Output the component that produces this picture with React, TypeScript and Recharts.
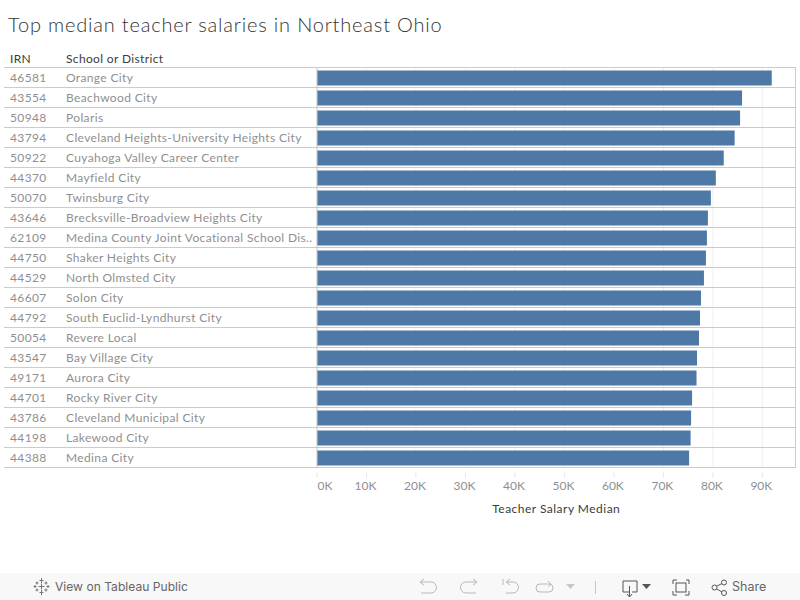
import React from 'react';
import { Bar, BarChart, CartesianGrid, ReferenceLine, XAxis, YAxis } from 'recharts';

const irns = ['46581', '43554', '50948', '43794', '50922', '44370', '50070', '43646', '62109', '44750', '44529', '46607', '44792', '50054', '43547', '49171', '44701', '43786', '44198', '44388'];
const districts = [
  'Orange City',
  'Beachwood City',
  'Polaris',
  'Cleveland Heights-University Heights City',
  'Cuyahoga Valley Career Center',
  'Mayfield City',
  'Twinsburg City',
  'Brecksville-Broadview Heights City',
  'Medina County Joint Vocational School Dis..',
  'Shaker Heights City',
  'North Olmsted City',
  'Solon City',
  'South Euclid-Lyndhurst City',
  'Revere Local',
  'Bay Village City',
  'Aurora City',
  'Rocky River City',
  'Cleveland Municipal City',
  'Lakewood City',
  'Medina City',
];
const salaries = [91900, 85900, 85500, 84400, 82200, 80600, 79600, 79000, 78800, 78600, 78200, 77600, 77400, 77200, 76800, 76700, 75800, 75600, 75500, 75200];
const salaryTicks = [0, 10000, 20000, 30000, 40000, 50000, 60000, 70000, 80000, 90000];

const chartData = districts.map((district, i) => ({ district, irn: irns[i], salary: salaries[i] }));

const FONT = 'Lato, sans-serif';
const RULE = '#cbcbcb';
const HEADER = { position: 'absolute', top: 51, fontFamily: FONT, fontSize: 12, color: '#3c3c3c', letterSpacing: 0.35 } as const;

const RowTick = (props: any) => {
  const { y, payload, index } = props;
  return (
    <g fontFamily={FONT} fontSize={12} fill="#8f8f8f" letterSpacing={0.36}>
      <text x={10} y={y + 4.5}>{irns[index]}</text>
      <text x={66} y={y + 4.5}>{payload.value}</text>
      {index === 0 && <line x1={4} x2={796} y1={y - 10} y2={y - 10} stroke={RULE} />}
      <line x1={4} x2={796} y1={y + 10} y2={y + 10} stroke={RULE} />
    </g>
  );
};

const SalaryTick = (props: any) => {
  const { x, y, payload } = props;
  const label = `${payload.value / 1000}K`;
  return (
    <g>
      <line x1={x} x2={x} y1={y - 9} y2={y - 4} stroke="#e6e6e6" />
      <text x={payload.value === 0 ? x + 8 : x - 1} y={y + 8} textAnchor="middle" fontFamily={FONT} fontSize={12} fill="#8f8f8f">
        {label}
      </text>
    </g>
  );
};

const Toolbar = () => (
  <div style={{ position: 'absolute', left: 0, top: 573, width: 800, height: 27, background: '#f8f8f8' }}>
    <svg width={800} height={27} style={{ display: 'block' }} fill="none" stroke="#b8b8b8" strokeWidth={1}>
      <g stroke="#777">
        <path d="M41.500 5v5M39.500 7.500h4M41.500 17v5M39.500 19.500h4M35 12v3M33.500 13.500h3M48 12v3M46.500 13.500h3" />
        <path d="M37 8.500v3M35.500 10h3M46 8.500v3M44.500 10h3M37 15.500v3M35.500 17h3M46 15.500v3M44.500 17h3M41.500 10.500v6M38.500 13.500h6" />
      </g>
      <path d="M421 9h10a5.500 5.500 0 0 1 0 11h-10M424 6l-4 3 4 3" />
      <path d="M476 9h-10a5.500 5.500 0 0 0 0 11h10M473 6l4 3-4 3" />
      <path d="M503 6v6M507 9h6a5.500 5.500 0 0 1 0 11h-7M510 6l-4 3 4 3" />
      <path d="M540 11h9a3.500 3.500 0 0 1 0 8h-9a3.500 3.500 0 0 1 0-8M548 8l3 3-3 3" />
      <path d="M566 11h9l-4.500 5z" fill="#c8c8c8" stroke="none" />
      <path d="M595.500 8v13" stroke="#c4c4c4" />
      <g stroke="#555">
        <path d="M629 19h-6v-11h14v11h-5M629.500 13v10M627 21l2.500 3 2.500-3" />
        <path d="M642 11h9l-4.500 5z" fill="#555" stroke="none" />
        <path d="M673 11v-4h4M686 7h3v4M689 18v4h-4M677 22h-4v-4" />
        <rect x={676} y={10} width={10} height={9} />
        <circle cx={714.500} cy={14.500} r={2.500} />
        <circle cx={724} cy={9.500} r={2.500} />
        <circle cx={724} cy={20} r={2.500} />
        <path d="M717 13l5-2.500M717 16l5 3" />
      </g>
    </svg>
    <div style={{ position: 'absolute', left: 55, top: 6, font: '12.100px Inter, sans-serif', lineHeight: '15px', color: '#666' }}>View on Tableau Public</div>
    <div style={{ position: 'absolute', left: 732, top: 6, font: '12.500px Inter, sans-serif', color: '#666' }}>Share</div>
  </div>
);

const App = () => (
  <div style={{ position: 'absolute', left: 0, top: 0, width: 800, height: 600, overflow: 'hidden', background: '#fff' }}>
    <div style={{ position: 'absolute', left: 8, top: 12, fontFamily: FONT, fontWeight: 300, fontSize: 20, letterSpacing: 0.82, color: '#333', whiteSpace: 'nowrap' }}>
      Top median teacher salaries in Northeast Ohio
    </div>
    <div style={{ ...HEADER, left: 10 }}>IRN</div>
    <div style={{ ...HEADER, left: 66 }}>School or District</div>
    <BarChart
      width={800}
      height={600}
      layout="vertical"
      data={chartData}
      margin={{ top: 67.5, right: 4.5, bottom: 72.5, left: 0 }}
      barCategoryGap={2.5}
    >
      <CartesianGrid horizontal={false} vertical stroke="#f0f0f0" />
      <XAxis
        type="number"
        dataKey="salary"
        domain={[0, 96700]}
        ticks={salaryTicks}
        interval={0}
        allowDataOverflow
        height={60}
        axisLine={false}
        tickLine={false}
        tick={<SalaryTick />}
        tickMargin={8}
        label={{ value: 'Teacher Salary Median', position: 'insideBottom', offset: 15, fontFamily: FONT, fontSize: 12, letterSpacing: 0.48, fill: '#3c3c3c' }}
      />
      <YAxis
        type="category"
        dataKey="district"
        width={317}
        interval={0}
        axisLine={{ stroke: RULE }}
        tickLine={false}
        tick={<RowTick />}
      />
      <ReferenceLine x={96700} stroke={RULE} />
      <Bar dataKey="salary" fill="#4e79a7" barSize={15} isAnimationActive={false} />
    </BarChart>
    <Toolbar />
  </div>
);

export default App;
